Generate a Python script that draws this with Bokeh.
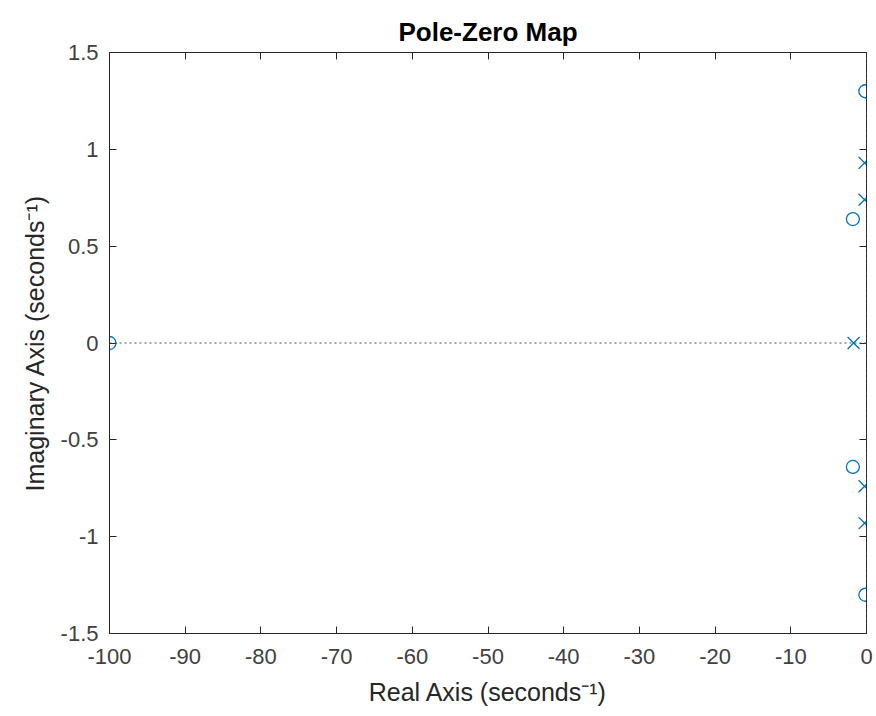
from bokeh.plotting import figure
from bokeh.models import Span, LinearAxis, FixedTicker, Range1d, CustomLabelingPolicy
from bokeh.embed import file_html
from bokeh.resources import INLINE

# Data
pole_re = [-0.25, -0.25, -0.25, -0.25, -1.7]
pole_im = [0.93, 0.74, -0.74, -0.93, 0.0]
zero_re = [-0.15, -1.8, -1.8, -0.15, -100.0]
zero_im = [1.30, 0.64, -0.64, -1.30, 0.0]

x_ticks = [-100, -90, -80, -70, -60, -50, -40, -30, -20, -10, 0]
x_tick_labels = ["-100", "-90", "-80", "-70", "-60", "-50", "-40", "-30", "-20", "-10", "0"]
y_ticks = [-1.5, -1.0, -0.5, 0.0, 0.5, 1.0, 1.5]
y_tick_labels = ["-1.5", "-1", "-0.5", "0", "0.5", "1", "1.5"]

FONT = "Liberation Sans"
TXT = "#262626"
MARK = "#0072BD"

p = figure(width=876, height=716, output_backend="svg", toolbar_location=None,
           x_range=Range1d(-100, 0), y_range=Range1d(-1.5, 1.5),
           title="Pole-Zero Map",
           min_border_left=109, min_border_right=10, min_border_top=52, min_border_bottom=83)
p.background_fill_color = "white"
p.border_fill_color = "white"
p.outline_line_color = TXT
p.outline_line_width = 1
p.grid.visible = False

p.title.align = "center"
p.title.vertical_align = "top"
p.title.text_font = FONT
p.title.text_font_size = "26px"
p.title.text_font_style = "bold"
p.title.text_color = "black"
p.title.standoff = 8

no_labels = CustomLabelingPolicy(code="return new Set()")

def style_axis(ax, ticks, labels, show_labels):
    ax.ticker = FixedTicker(ticks=ticks)
    ax.major_tick_in = 7
    ax.major_tick_out = 0
    ax.minor_tick_line_color = None
    ax.axis_line_color = TXT
    ax.major_tick_line_color = TXT
    ax.major_label_text_font = FONT
    ax.major_label_text_color = "#404040"
    if show_labels:
        ax.major_label_overrides = {t: l for t, l in zip(ticks, labels)}
        ax.major_label_text_font_size = "22px"
    else:
        ax.major_label_policy = no_labels
        ax.major_label_text_font_size = "0px"
        ax.major_label_standoff = 0

xa = p.xaxis[0]
ya = p.yaxis[0]
style_axis(xa, x_ticks, x_tick_labels, True)
style_axis(ya, y_ticks, y_tick_labels, True)
xa.major_label_standoff = 15
ya.major_label_standoff = 11
xa.axis_label = "Real Axis (seconds⁻¹)"
ya.axis_label = "Imaginary Axis (seconds⁻¹)"
for ax in (xa, ya):
    ax.axis_label_text_font = FONT
    ax.axis_label_text_font_size = "25px"
    ax.axis_label_text_font_style = "normal"
    ax.axis_label_text_color = TXT
xa.axis_label_standoff = 11
ya.axis_label_standoff = 9

top_ax = LinearAxis()
right_ax = LinearAxis()
style_axis(top_ax, x_ticks, x_tick_labels, False)
style_axis(right_ax, y_ticks, y_tick_labels, False)
p.add_layout(top_ax, "above")
p.add_layout(right_ax, "right")

# dotted zero lines
p.add_layout(Span(location=0, dimension="width", line_color="#4d4d4d",
                  line_dash="2 3", line_width=1))
p.add_layout(Span(location=0, dimension="height", line_color="#4d4d4d",
                  line_dash="2 3", line_width=1))

p.scatter(pole_re, pole_im, marker="x", size=17, line_color=MARK, line_width=1.3)
p.scatter(zero_re, zero_im, marker="circle", size=13, line_color=MARK,
          fill_color=None, line_width=1.3)

open("out.html", "w").write(file_html(p, INLINE))
